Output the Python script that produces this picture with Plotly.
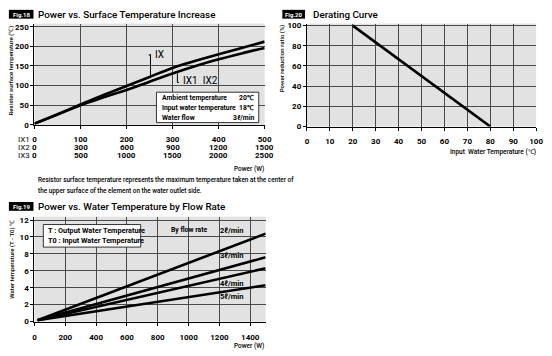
import plotly.graph_objects as go

# ---------------- data ----------------
# Fig.18 Power vs. Surface Temperature Increase (x in IX1 scale, W)
fig18_power = [0, 50, 100, 150, 200, 250, 300, 350, 400, 450, 500]
fig18_temp_ix = [3, 27, 52, 76, 99, 122, 145, 163, 180, 196, 212]
fig18_temp_ix1_ix2 = [3, 26, 50, 70, 89, 110, 131, 150, 167, 182, 196]
fig18_ticks_ix1 = [0, 100, 200, 300, 400, 500]
fig18_ticks_ix2 = [0, 300, 600, 900, 1200, 1500]
fig18_ticks_ix3 = [0, 500, 1000, 1500, 2000, 2500]
fig18_yticks = [0, 50, 100, 150, 200, 250]

# Fig.20 Derating Curve
fig20_temp = [20, 80]
fig20_ratio = [100, 0]
fig20_xticks = [0, 10, 20, 30, 40, 50, 60, 70, 80, 90, 100]
fig20_yticks = [0, 20, 40, 60, 80, 100]

# Fig.19 Power vs. Water Temperature by Flow Rate
fig19_power = [20, 1500]
fig19_flow_labels = ["2ℓ/min", "3ℓ/min", "4ℓ/min", "5ℓ/min"]
fig19_dt_2 = [0.15, 10.4]
fig19_dt_3 = [0.15, 7.6]
fig19_dt_4 = [0.15, 6.3]
fig19_dt_5 = [0.15, 4.3]
fig19_label_y = [10.8, 7.8, 4.5, 3.0]
fig19_xticks = [0, 200, 400, 600, 800, 1000, 1200, 1400]
fig19_yticks = [0, 2, 4, 6, 8, 10, 12]

# ---------------- helpers ----------------
W, H = 552, 356
def px(x):
    return x / W
def py(y):
    return 1 - y / H

FONT = "Roboto, Liberation Sans, Arial, sans-serif"
BG = "#e2e2e2"
GRID = "#4a4a4a"

fig = go.Figure()
LW = 2.6
fig.add_trace(go.Scatter(x=fig18_power, y=fig18_temp_ix, mode="lines", line=dict(color="black", width=LW, shape="spline"), xaxis="x", yaxis="y", showlegend=False))
fig.add_trace(go.Scatter(x=fig18_power, y=fig18_temp_ix1_ix2, mode="lines", line=dict(color="black", width=LW, shape="spline"), xaxis="x", yaxis="y", showlegend=False))
fig.add_trace(go.Scatter(x=fig20_temp, y=fig20_ratio, mode="lines", line=dict(color="black", width=LW), xaxis="x2", yaxis="y2", showlegend=False))
for dt in (fig19_dt_2, fig19_dt_3, fig19_dt_4, fig19_dt_5):
    fig.add_trace(go.Scatter(x=fig19_power, y=dt, mode="lines", line=dict(color="black", width=LW), xaxis="x3", yaxis="y3", showlegend=False))

TICK = 8
tickfont = dict(family=FONT, size=TICK, color="black", weight="bold")
def ax(**kw):
    d = dict(showgrid=True, gridcolor=GRID, gridwidth=1, zeroline=False, showline=True,
             linecolor="black", linewidth=1.2, ticks="outside", ticklen=3, tickcolor="black",
             tickfont=tickfont, fixedrange=True)
    d.update(kw)
    return d

layout = dict(
    width=W, height=H, autosize=False,
    margin=dict(l=0, r=0, t=0, b=0),
    paper_bgcolor="white", plot_bgcolor=BG,
    xaxis=ax(domain=[px(33), px(267)], range=[0, 500], tickvals=fig18_ticks_ix1, anchor="y", ticklabelstandoff=3),
    yaxis=ax(domain=[py(125.3), py(22)], range=[0, 258], tickvals=fig18_yticks, anchor="x"),
    xaxis2=ax(domain=[px(310), px(543)], range=[0, 100], tickvals=fig20_xticks, anchor="y2", ticklabelstandoff=4),
    yaxis2=ax(domain=[py(127), py(22)], range=[0, 102], tickvals=fig20_yticks, anchor="x2"),
    xaxis3=ax(domain=[px(33), px(268)], range=[0, 1500], tickvals=fig19_xticks, anchor="y3", ticklabelstandoff=5),
    yaxis3=ax(domain=[py(326), py(219)], range=[0, 12.4], tickvals=fig19_yticks, anchor="x3"),
)
fig.update_layout(**layout)

ann = []
shapes = []
def text(x, y, t, size=9, weight="bold", xanchor="left", xref="paper", yref="paper", color="black", angle=0, family=FONT):
    ann.append(dict(x=x, y=y, xref=xref, yref=yref, text=t, showarrow=False, xanchor=xanchor, yanchor="middle",
                    textangle=angle, font=dict(family=family, size=size, color=color, weight=weight)))

def figbox(x0, y0, x1, y1, label):
    shapes.append(dict(type="rect", xref="paper", yref="paper", x0=px(x0), x1=px(x1), y0=py(y1), y1=py(y0),
                       fillcolor="black", line=dict(width=0)))
    text(px((x0 + x1) / 2), py((y0 + y1) / 2), label, size=6, xanchor="center", color="white")

TITLE = 9.8
# Fig.18
figbox(7, 8, 32, 17, "Fig.18")
text(px(35), py(12.5), "Power vs. Surface Temperature Increase", size=TITLE, weight=500)
text(px(9), py(70), "Resister surface temperature (℃)", size=6, weight=500, xanchor="center", angle=-90)
rows = [("IX1", 140, None), ("IX2", 148.5, fig18_ticks_ix2), ("IX3", 157, fig18_ticks_ix3)]
for name, yy, vals in rows:
    text(px(30), py(yy), name, size=8, weight="normal", xanchor="right")
    if vals is not None:
        for xv, lab in zip(fig18_ticks_ix1, vals):
            ann.append(dict(x=xv, y=py(yy), xref="x", yref="paper", text=str(lab), showarrow=False,
                            xanchor="center", yanchor="middle", font=dict(family=FONT, size=TICK, color="black", weight="bold")))
text(px(268), py(170), "Power (W)", size=6.5, weight=500, xanchor="right")
text(px(35), py(182), "Resistor surface temperature represents the maximum temperature taken at the center of", size=6.4, weight=500)
text(px(35), py(193), "the upper surface of the element on the water outlet side.", size=6.4, weight=500)
# curve labels and leaders
shapes.append(dict(type="line", xref="x", yref="y", x0=252, x1=252, y0=126, y1=180, line=dict(color="black", width=1)))
shapes.append(dict(type="line", xref="x", yref="y", x0=248, x1=252, y0=178, y1=178, line=dict(color="black", width=1)))
text(257, 178, "IX", size=10, weight="normal", xref="x", yref="y")
shapes.append(dict(type="line", xref="x", yref="y", x0=310.5, x1=310.5, y0=131, y1=108, line=dict(color="black", width=1)))
shapes.append(dict(type="line", xref="x", yref="y", x0=310.5, x1=314, y0=108, y1=108, line=dict(color="black", width=1)))
text(318, 112, "IX1  IX2", size=10, weight="normal", xref="x", yref="y")
# condition box
shapes.append(dict(type="rect", xref="paper", yref="paper", x0=px(157), x1=px(261), y0=py(123), y1=py(92),
                   fillcolor="white", line=dict(color="#333", width=1)))
for yy, a, b in [(98, "Ambient temperature", "20℃"), (108, "Input water temperature", "18℃"), (118, "Water flow", "3ℓ/min")]:
    text(px(161), py(yy), a, size=6.8)
    text(px(258), py(yy), b, size=6.8, xanchor="right")

# Fig.20
figbox(285, 8, 308, 17, "Fig.20")
text(px(314), py(12.5), "Derating Curve", size=TITLE, weight=500)
text(px(285), py(57), "Power reduction ratio (%)", size=6, weight=500, xanchor="center", angle=-90)
text(px(545), py(153), "Input  Water Temperature (℃)", size=6.5, weight=500, xanchor="right")

# Fig.19
figbox(7, 204, 32, 213, "Fig.19")
text(px(35), py(209), "Power vs. Water Temperature by Flow Rate", size=TITLE, weight=500)
text(px(10), py(262), "Water temperature (T - T0) ℃", size=6, weight=500, xanchor="center", angle=-90)
text(px(268), py(351), "Power (W)", size=6.5, weight=500, xanchor="right")
shapes.append(dict(type="rect", xref="paper", yref="paper", x0=px(42), x1=px(141), y0=py(250), y1=py(227),
                   fillcolor="white", line=dict(color="#333", width=1)))
text(px(45), py(233), "T : Output Water Temperature", size=7.3)
text(px(45), py(243.5), "T0 : Input Water Temperature", size=7.3)
text(1002, 10.8, "By flow rate", size=6.8, xref="x3", yref="y3", xanchor="center")
for lab, yv in zip(fig19_flow_labels, fig19_label_y):
    text(1277, yv, lab, size=7.5, xref="x3", yref="y3", xanchor="center")

fig.update_layout(annotations=ann, shapes=shapes)
fig.write_html("out.html", config={"displayModeBar": False}, post_script="document.body.style.margin='0';")
